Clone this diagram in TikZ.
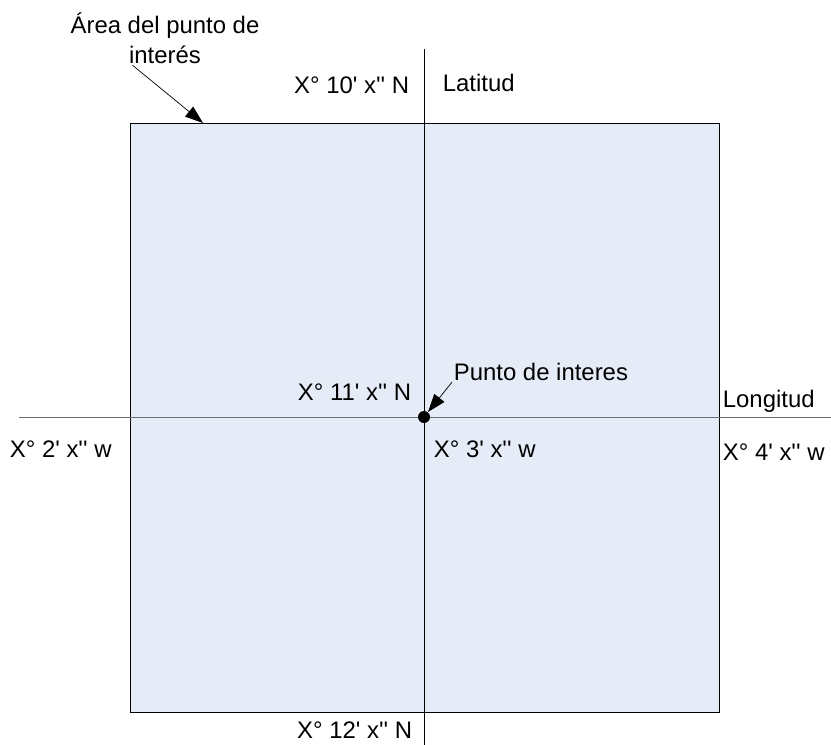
\documentclass[tikz,border=0pt]{standalone}
\usepackage{fontspec}
\newfontfamily\arialfont{Liberation Sans}
\usetikzlibrary{arrows.meta}
\definecolor{areablue}{HTML}{E6ECF7}
\definecolor{axisgray}{HTML}{6E6E6E}
\tikzset{
	coordtext/.style={font=\arialfont\fontsize{17}{21.3}\selectfont, inner sep=1pt}
}
\tikzset{
	pointer/.style={-{Triangle[length=4.5mm,width=3.2mm]}, line width=0.5pt}
}
\tikzset{
	dotpt/.style={circle, fill=black, inner sep=0pt, minimum size=3mm}
}

\begin{document}
\begin{tikzpicture}[x=0.025cm, y=-0.025cm, line width=0.7pt]
      \useasboundingbox (0,0) rectangle (831,745);

      % area around the point of interest
      \filldraw[areablue, draw=black] (130,123) rectangle (719,712);
      \coordinate (areatop) at (203,123);

      % longitude and latitude lines
      \draw[axisgray] (19,417) -- (831,417);
      \draw (424,49) -- (424,745);

      % point of interest
      \node[dotpt] (pt) at (424,417) {};

      % latitude labels
      \node[coordtext, anchor=base east] (lat10) at (411,93) {X° 10' x'' N};
      \node[coordtext, anchor=base west] (latname) at (441,91) {Latitud};
      \node[coordtext, anchor=base east] (lat11) at (413,400) {X° 11' x'' N};
      \node[coordtext, anchor=base east] (lat12) at (414,738) {X° 12' x'' N};

      % longitude labels
      \node[coordtext, anchor=base west] (lonname) at (721,407) {Longitud};
      \node[coordtext, anchor=base west] (lon2) at (8,457) {X° 2' x'' w};
      \node[coordtext, anchor=base west] (lon3) at (432,457) {X° 3' x'' w};
      \node[coordtext, anchor=base west] (lon4) at (721,460) {X° 4' x'' w};

      % pointers
      \node[coordtext, anchor=base west] (punto) at (452,380) {Punto de interes};
      \draw[pointer] (punto.south west) -- (pt);
      \node[coordtext, align=center, anchor=base] (area) at (165,63) {Área del punto de\\interés};
      \draw[pointer] (area.220) -- (areatop);
    \end{tikzpicture}
\end{document}
